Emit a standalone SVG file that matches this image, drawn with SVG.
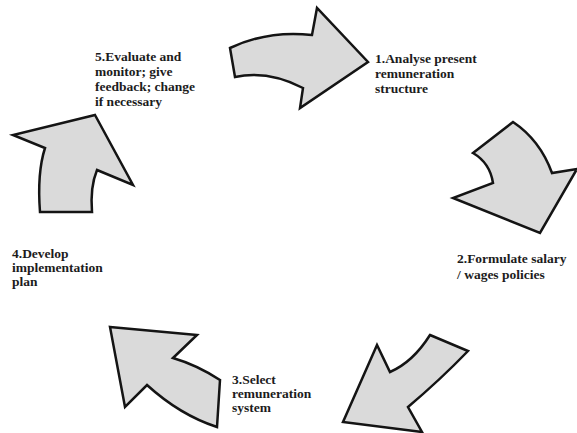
<svg xmlns="http://www.w3.org/2000/svg" width="577" height="433" viewBox="0 0 577 433">
<style>
.arrow{fill:#dadada;stroke:#141414;stroke-width:2.5;stroke-linejoin:miter}
.lbl{font-family:"Liberation Serif","Times New Roman",serif;font-weight:bold;font-size:13.5px;fill:#1c1c1c}
</style>
<rect width="577" height="433" fill="#ffffff"/>
<g id="connectors">
<path class="arrow" d="M230,48 Q268,30 312,35 L317,8 L368,62 L300,108 L303,88 Q268,70 235,77 Z"/>
<path class="arrow" d="M473,153 L513,122 Q540,140 552,173 L577,169 L540,233 L453,198 L493,183 Q490,163 473,153 Z"/>
<path class="arrow" d="M430,335 L468,351 Q440,380 408,407 L422,432 L343,422 L377,345 L390,372 Q413,362 430,335 Z"/>
<path class="arrow" d="M110,327 L197,335 L173,358 Q197,365 220,380 L217,427 Q180,415 147,385 L125,407 Z"/>
<path class="arrow" d="M95,115 L133,185 L97,170 Q90,187 92,212 L40,212 Q37,173 45,148 L13,135 Z"/>
</g>
<g id="node1">
<text class="lbl" x="375" y="63">1.Analyse present</text>
<text class="lbl" x="375" y="78">remuneration</text>
<text class="lbl" x="375" y="93">structure</text>
</g>
<g id="node2">
<text class="lbl" x="457" y="263">2.Formulate salary</text>
<text class="lbl" x="457" y="279">/ wages policies</text>
</g>
<g id="node3">
<text class="lbl" x="232" y="384">3.Select</text>
<text class="lbl" x="232" y="398">remuneration</text>
<text class="lbl" x="232" y="412">system</text>
</g>
<g id="node4">
<text class="lbl" x="12" y="258">4.Develop</text>
<text class="lbl" x="12" y="272">implementation</text>
<text class="lbl" x="12" y="286">plan</text>
</g>
<g id="node5">
<text class="lbl" x="95" y="61">5.Evaluate and</text>
<text class="lbl" x="95" y="76">monitor; give</text>
<text class="lbl" x="95" y="91">feedback; change</text>
<text class="lbl" x="95" y="106">if necessary</text>
</g>
</svg>
